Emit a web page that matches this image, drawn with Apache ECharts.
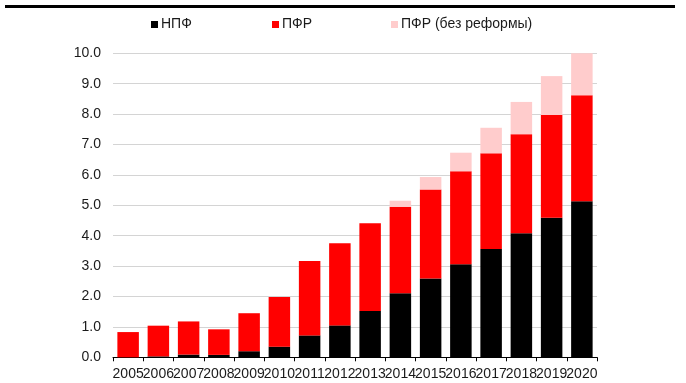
<!DOCTYPE html>
<html>
<head>
<meta charset="utf-8">
<script src="https://cdn.jsdelivr.net/npm/echarts@6/dist/echarts.min.js"></script>
<style>
  html, body { margin: 0; padding: 0; background: #fff; }
  #chart { width: 686px; height: 383px; }
</style>
</head>
<body>
<div id="chart"></div>
<script>
// Years on the category axis
const years = ['2005','2006','2007','2008','2009','2010','2011','2012',
               '2013','2014','2015','2016','2017','2018','2019','2020'];

// Stacked segments (each value is the height of its own segment)
const npf = [0.00, 0.03, 0.09, 0.08, 0.20, 0.35, 0.72, 1.05,
             1.52, 2.11, 2.59, 3.06, 3.56, 4.08, 4.59, 5.13];
const pfr = [0.83, 1.01, 1.09, 0.84, 1.25, 1.63, 2.45, 2.70,
             2.89, 2.84, 2.93, 3.06, 3.15, 3.26, 3.38, 3.49];
const pfrNoReform = [0, 0, 0, 0, 0, 0, 0, 0,
                     0, 0.20, 0.41, 0.61, 0.84, 1.06, 1.28, 1.38];

// Value-axis ticks
const yMin = 0, yMax = 10, yStep = 1;

const names = ['НПФ', 'ПФР', 'ПФР (без реформы)'];
const colors = ['#000000', '#ff0000', '#ffcccc'];
const font = 'Liberation Sans, Arial, sans-serif';
const textColor = '#1a1a1a';

const chart = echarts.init(document.getElementById('chart'), null, { renderer: 'canvas' });

const legendLefts = [151, 272, 391];
const legends = names.map((n, i) => ({
  data: [n],
  left: legendLefts[i],
  top: 17.5,
  padding: 0,
  itemWidth: 7,
  itemHeight: 7,
  icon: 'rect',
  selectedMode: false,
  textStyle: { fontFamily: font, fontSize: 14, color: textColor, padding: [0, 0, 0, -2] }
}));

const seriesData = [npf, pfr, pfrNoReform];

chart.setOption({
  animation: false,
  backgroundColor: '#ffffff',
  color: colors,
  legend: legends,
  graphic: [{
    type: 'rect',
    shape: { x: 5, y: 5, width: 670, height: 3 },
    style: { fill: '#000' }
  }],
  grid: { left: 113, right: 89, top: 53.3, bottom: 25.7, containLabel: false },
  xAxis: {
    type: 'category',
    data: years,
    axisLine: { lineStyle: { color: '#000', width: 1 } },
    axisTick: { show: true, length: 4, lineStyle: { color: '#000' }, alignWithLabel: false },
    axisLabel: { fontFamily: font, fontSize: 14, color: textColor, margin: 10, interval: 0 }
  },
  yAxis: {
    type: 'value',
    min: yMin, max: yMax, interval: yStep,
    axisLine: { show: false },
    axisTick: { show: false },
    splitLine: { lineStyle: { color: '#d4d4d4', width: 1 } },
    axisLabel: {
      fontFamily: font, fontSize: 14, color: textColor, margin: 12,
      formatter: v => v.toFixed(1)
    }
  },
  series: names.map((n, i) => ({
    name: n,
    type: 'bar',
    stack: 'total',
    barWidth: 21.5,
    data: seriesData[i],
    itemStyle: { color: colors[i] }
  }))
});
</script>
</body>
</html>
